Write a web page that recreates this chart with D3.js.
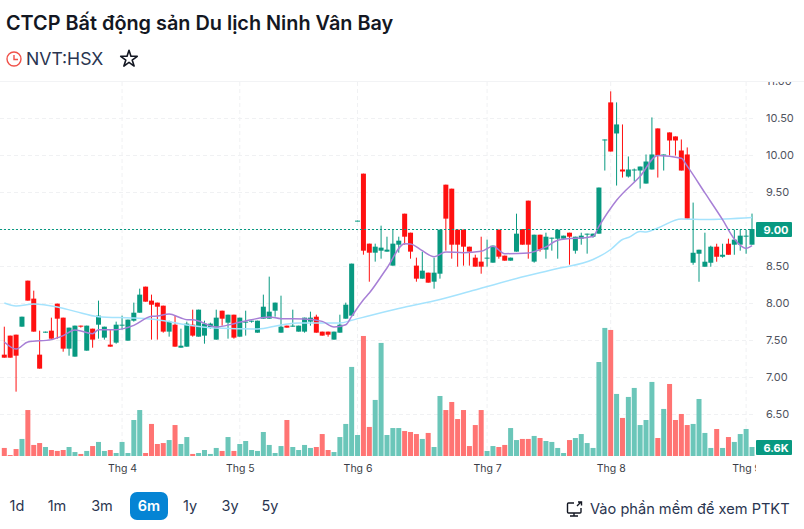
<!DOCTYPE html>
<html>
<head lang="en">
    <meta charset="UTF-8">
    <title>NVT:HSX</title>
    <script src="https://cdnjs.cloudflare.com/ajax/libs/d3/7.8.5/d3.min.js"></script>
    <style>
        body { margin: 0; background: #fff; }
        text { font-family: Inter, "Noto Sans", sans-serif; }
    </style>
</head>
<body>

<script>

    // prices, one entry per session
    var opens = [7.302,7.559,7.572,7.680,8.302,8.059,7.302,7.599,7.626,7.991,7.802,7.383,7.275,7.694,7.356,7.653,7.707,7.532,7.437,7.464,7.694,7.491,7.761,7.869,8.221,8.032,8.005,7.964,7.613,7.707,7.396,7.410,
        7.707,7.545,7.559,7.667,7.505,7.896,7.734,7.842,7.545,7.739,7.748,7.599,7.788,7.788,7.896,7.599,7.694,7.680,7.613,7.613,7.748,7.815,7.613,7.613,7.505,7.599,7.788,7.829,
        9.104,9.748,8.802,8.680,8.707,8.694,8.505,8.788,9.207,8.950,8.505,8.329,8.410,8.288,8.396,9.599,9.545,8.991,8.991,
        8.761,8.613,8.559,8.604,8.545,8.991,8.640,8.572,8.694,9.000,9.383,8.559,8.923,8.721,8.869,8.869,8.869,8.950,8.707,8.869,8.928,8.896,
        8.937,10.196,10.711,10.291,9.804,9.709,9.795,9.790,9.614,9.804,10.359,9.993,10.305,10.251,10.061,10.007,8.544,8.666,8.490,8.544,8.761,8.625,8.801,8.788,8.788,8.901,8.788];
    var closes = [7.261,7.261,7.288,7.815,8.032,7.613,7.113,7.613,7.518,7.788,7.383,7.667,7.694,7.680,7.694,7.505,7.829,7.680,7.410,7.707,7.707,7.775,7.869,8.113,8.018,7.977,7.950,7.613,7.748,7.410,7.423,7.721,
        7.559,7.910,7.721,7.721,7.802,7.788,7.842,7.532,7.802,7.748,7.761,7.761,7.950,7.883,8.005,7.680,7.667,7.694,7.694,7.802,7.802,7.599,7.559,7.572,7.613,7.707,7.977,8.532,
        9.113,8.707,8.680,8.761,8.748,8.721,8.802,8.842,8.896,8.694,8.329,8.437,8.275,8.410,8.991,9.140,8.788,8.788,8.761,
        8.694,8.491,8.491,8.613,8.775,8.626,8.572,8.613,8.937,8.788,8.788,8.923,8.721,8.896,8.883,8.991,8.910,8.896,8.896,8.910,8.937,8.937,
        9.560,10.210,10.047,10.413,9.777,9.804,9.804,9.844,9.912,10.007,9.993,10.007,10.196,10.196,9.790,9.140,8.679,8.720,8.558,8.761,8.625,8.652,8.652,8.856,8.910,8.910,9.000];
    var highs = [7.680,7.559,7.572,7.815,8.302,8.167,7.626,7.613,7.802,7.991,7.802,7.667,7.694,7.694,7.694,7.653,8.032,7.680,7.640,7.748,7.829,7.775,8.005,8.194,8.221,8.113,8.005,7.964,7.761,7.829,7.653,7.748,
        7.910,7.910,7.761,7.734,7.910,7.896,7.842,7.842,7.802,7.896,7.761,7.761,8.113,8.356,8.005,8.099,7.694,7.910,7.694,7.802,7.883,7.842,7.613,7.613,7.613,7.842,8.005,8.532,
        9.113,9.748,8.802,8.802,9.045,8.896,8.991,8.896,9.207,8.950,8.613,8.694,8.410,8.613,8.991,9.599,9.545,8.991,8.991,
        8.761,8.653,8.896,8.856,8.775,8.991,8.640,8.613,9.207,9.000,9.383,8.923,8.923,8.950,8.883,8.991,8.910,8.950,8.896,8.950,8.937,8.937,
        9.560,10.210,10.860,10.711,10.413,9.980,9.817,9.844,10.007,10.508,10.359,10.007,10.305,10.251,10.210,10.102,9.357,8.720,8.950,8.774,8.801,8.801,8.869,8.991,8.991,8.991,9.208];
    var lows = [7.261,7.261,6.802,7.680,8.032,7.613,7.113,7.599,7.518,7.518,7.342,7.288,7.275,7.667,7.356,7.396,7.518,7.505,7.410,7.450,7.640,7.491,7.748,7.869,8.018,7.505,7.505,7.599,7.545,7.410,7.396,7.410,
        7.545,7.545,7.450,7.653,7.505,7.694,7.518,7.518,7.545,7.559,7.734,7.599,7.788,7.788,7.815,7.599,7.667,7.680,7.613,7.599,7.694,7.599,7.559,7.545,7.505,7.599,7.788,7.829,
        9.104,8.653,8.288,8.559,8.599,8.694,8.505,8.680,8.788,8.599,8.288,8.329,8.275,8.194,8.329,8.707,8.599,8.491,8.505,
        8.505,8.491,8.396,8.491,8.545,8.599,8.572,8.572,8.694,8.788,8.599,8.545,8.694,8.599,8.707,8.599,8.869,8.518,8.667,8.788,8.667,8.883,
        8.937,9.790,10.047,9.587,9.695,9.695,9.641,9.546,9.614,9.804,9.695,9.790,9.993,9.993,9.790,9.140,8.517,8.287,8.490,8.490,8.558,8.612,8.652,8.652,8.707,8.666,8.788];
    // volume in thousands, same order
    var volumes = [5.9,0.7,5.1,12.5,33.7,8.1,9.5,6.6,4.4,3.7,4.4,6.6,2.9,1.5,3.7,7.3,10.3,3.7,4.4,2.2,10.3,2.2,26.4,33.7,2.2,23.5,8.8,9.5,11.7,22.7,8.8,13.9,
        1.5,2.2,4.4,1.5,5.9,3.7,13.9,3.7,8.8,11.0,4.4,3.7,17.6,8.1,2.2,7.3,26.4,6.6,4.4,8.1,5.9,6.6,16.1,4.4,2.9,13.9,23.5,65.3,
        15.4,88.0,21.3,41.1,82.9,15.4,20.5,20.5,18.3,17.6,16.1,12.5,16.9,6.6,44.0,33.7,39.6,27.1,33.7,
        7.3,22.7,33.7,3.7,7.3,6.6,8.1,20.5,11.7,12.5,12.5,14.7,13.2,11.0,10.3,5.9,2.2,11.7,13.2,16.1,9.5,5.9,
        68.9,93.9,92.4,45.5,27.9,43.3,49.9,22.7,26.4,54.3,13.2,34.5,52.8,26.4,30.8,22.7,23.5,41.8,16.9,5.9,19.8,5.9,13.9,10.3,16.1,19.8,6.6];

    // moving averages, read at the sessions where the lines bend
    var fastIdx = [0,2,4,8,10,12,15,16,19,22,25,26,28,30,31,32,36,39,42,45,47,51,54,56,58,59,61,62,65,68,69,71,73,75,78,81,83,85,89,92,94,100,101,104,108,111,115,116,119,122,124,126,127];
    var fastVal = [7.473,7.378,7.473,7.505,7.559,7.635,7.586,7.640,7.640,7.698,7.820,7.824,7.851,7.797,7.775,7.775,7.676,7.721,7.775,7.811,7.788,7.784,7.752,7.676,7.707,7.820,8.045,8.135,8.473,8.802,8.797,8.707,8.626,8.689,8.680,8.698,8.766,8.667,8.676,8.757,8.847,8.900,9.036,9.388,9.713,9.993,9.957,9.849,9.488,9.126,8.865,8.738,8.774];
    var slowIdx = [0,2,5,9,12,16,22,26,31,36,43,47,50,57,59,62,67,74,79,87,94,100,103,105,106,108,109,111,115,119,127];
    var slowVal = [8.000,7.960,7.986,7.946,7.887,7.815,7.797,7.775,7.703,7.662,7.649,7.703,7.730,7.730,7.766,7.829,7.926,8.047,8.155,8.331,8.466,8.588,8.723,8.858,8.885,8.966,8.960,9.014,9.135,9.128,9.155];

    var priceTicks = [6.5,7,7.5,8,8.5,9,9.5,10,10.5,11];
    var monthIdx = [20,40,60,82,103,126];
    var monthLabels = ["Thg 4","Thg 5","Thg 6","Thg 7","Thg 8","Thg 9"];
    var ranges = ["1d","1m","3m","6m","1y","3y","5y"];
    var rangeX = [17,57,102,149,190,230,270];

    var width = 804, height = 529;
    var plotTop = 82, plotRight = 756, plotBottom = 456;
    var up = "#089981", down = "#ff1010";

    var x = d3.scaleLinear().domain([0,127]).range([4.3,752]);
    var y = d3.scaleLinear().domain([6.5,11]).range([414,81]);
    var v = d3.scaleLinear().domain([0,100]).range([plotBottom,plotBottom-136.4]);

    var svg = d3.select("body").append("svg")
            .attr("width", width)
            .attr("height", height)
            .style("display", "block");

    svg.append("clipPath").attr("id","plot").append("rect")
            .attr("x",0).attr("y",plotTop).attr("width",plotRight).attr("height",plotBottom-plotTop+10);
    svg.append("clipPath").attr("id","yaxis").append("rect")
            .attr("x",plotRight).attr("y",plotTop).attr("width",48).attr("height",plotBottom-plotTop);
    svg.append("clipPath").attr("id","xaxis").append("rect")
            .attr("x",0).attr("y",plotBottom).attr("width",plotRight).attr("height",30);

    // header
    svg.append("text").text("CTCP Bất động sản Du lịch Ninh Vân Bay")
            .attr("x",6).attr("y",30).attr("font-size",19.85).attr("font-weight",600).attr("fill","#131722");
    svg.append("circle").attr("cx",14).attr("cy",59).attr("r",7)
            .attr("fill","none").attr("stroke","#f0524a").attr("stroke-width",1.4);
    svg.append("path").attr("d","M14 55V59.5H18")
            .attr("fill","none").attr("stroke","#f0524a").attr("stroke-width",1.4);
    svg.append("text").text("NVT:HSX")
            .attr("x",26).attr("y",65).attr("font-size",17.6).attr("fill","#2a3550");
    svg.append("path").attr("transform","translate(129,59)")
            .attr("d",d3.symbol().type(d3.symbolStar).size(85))
            .attr("fill","none").attr("stroke","#131722").attr("stroke-width",1.6).attr("stroke-linejoin","round");

    svg.append("line").attr("x1",0).attr("x2",width).attr("y1",81.5).attr("y2",81.5).attr("stroke","#f2f3f5");

    // grid
    var grid = svg.append("g").attr("stroke","#f0f1f3").attr("stroke-dasharray","4 3");
    grid.selectAll("line.h").data(priceTicks.slice(0,-1)).enter().append("line").attr("class","h")
            .attr("x1",0).attr("x2",plotRight)
            .attr("y1",function(d){ return Math.round(y(d))+0.5; })
            .attr("y2",function(d){ return Math.round(y(d))+0.5; });
    grid.selectAll("line.v").data(monthIdx).enter().append("line").attr("class","v")
            .attr("y1",plotTop).attr("y2",plotBottom)
            .attr("x1",function(d){ return x(d); })
            .attr("x2",function(d){ return x(d); });

    var plot = svg.append("g").attr("clip-path","url(#plot)");
    var idx = d3.range(opens.length);
    var rising = function(i){ return closes[i] >= opens[i]; };

    // volume bars
    plot.selectAll("rect.vol").data(idx).enter().append("rect").attr("class","vol")
            .attr("x",function(i){ return x(i)-2.5; })
            .attr("width",5)
            .attr("y",function(i){ return v(volumes[i]); })
            .attr("height",function(i){ return plotBottom-v(volumes[i]); })
            .attr("fill",function(i){ return rising(i) ? "#6bc6b9" : "#ff7473"; });

    // candles
    plot.selectAll("line.wick").data(idx).enter().append("line").attr("class","wick")
            .attr("x1",function(i){ return x(i); })
            .attr("x2",function(i){ return x(i); })
            .attr("y1",function(i){ return y(highs[i]); })
            .attr("y2",function(i){ return y(lows[i]); })
            .attr("stroke",function(i){ return rising(i) ? up : down; })
            .attr("stroke-width",1);
    plot.selectAll("rect.body").data(idx).enter().append("rect").attr("class","body")
            .attr("x",function(i){ return x(i)-2.5; })
            .attr("width",5)
            .attr("y",function(i){ return y(Math.max(opens[i],closes[i])); })
            .attr("height",function(i){ return Math.max(1,Math.abs(y(opens[i])-y(closes[i]))); })
            .attr("fill",function(i){ return rising(i) ? up : down; });

    // moving averages
    var line = d3.line()
            .x(function(d){ return x(d[0]); })
            .y(function(d){ return y(d[1]); })
            .curve(d3.curveMonotoneX);
    plot.append("path").datum(d3.zip(slowIdx,slowVal)).attr("d",line)
            .attr("fill","none").attr("stroke","#a5e3fd").attr("stroke-width",1.5);
    plot.append("path").datum(d3.zip(fastIdx,fastVal)).attr("d",line)
            .attr("fill","none").attr("stroke","#a77fd6").attr("stroke-width",1.5);

    // last price line
    svg.append("line").attr("x1",0).attr("x2",plotRight)
            .attr("y1",Math.round(y(9))+0.5).attr("y2",Math.round(y(9))+0.5)
            .attr("stroke",up).attr("stroke-dasharray","2 2");

    // axes, the 9.00 tick is covered by the last price tag
    var yAxis = svg.append("g").attr("clip-path","url(#yaxis)").append("g")
            .attr("transform","translate("+plotRight+",0)")
            .call(d3.axisRight(y).tickValues(priceTicks.filter(function(d){ return d != 9; })).tickFormat(d3.format(".2f")).tickSize(0).tickPadding(10));
    yAxis.select(".domain").remove();
    yAxis.selectAll("text").attr("font-size",11).attr("fill","#50535e").style("font-family","Inter");

    var xAxis = svg.append("g").attr("clip-path","url(#xaxis)").append("g")
            .attr("transform","translate(0,"+plotBottom+")")
            .call(d3.axisBottom(x).tickValues(monthIdx).tickFormat(function(d,i){ return monthLabels[i]; }).tickSize(0).tickPadding(9));
    xAxis.select(".domain").remove();
    xAxis.selectAll("text").attr("font-size",10.5).attr("fill","#3a3d46").style("font-family","Inter");

    // price and volume tags
    svg.append("rect").attr("x",plotRight).attr("y",222).attr("width",36).attr("height",15).attr("rx",1).attr("fill",up);
    svg.append("text").text("9.00").attr("x",776).attr("y",233.5).attr("text-anchor","middle")
            .attr("font-size",11).attr("font-weight",700).attr("fill","#fff");
    svg.append("rect").attr("x",plotRight).attr("y",440).attr("width",36).attr("height",15).attr("rx",1).attr("fill",up);
    svg.append("text").text("6.6K").attr("x",776).attr("y",451.5).attr("text-anchor","middle")
            .attr("font-size",11).attr("font-weight",700).attr("fill","#fff");

    // range buttons
    svg.append("rect").attr("x",130).attr("y",492).attr("width",38).attr("height",28).attr("rx",7).attr("fill","#0584d4");
    svg.selectAll("text.range").data(ranges).enter().append("text").attr("class","range")
            .text(function(d){ return d; })
            .attr("x",function(d,i){ return rangeX[i]; })
            .attr("y",511)
            .attr("text-anchor","middle")
            .attr("font-size",14.5)
            .attr("font-weight",function(d){ return d == "6m" ? 600 : 400; })
            .attr("fill",function(d){ return d == "6m" ? "#fff" : "#2a3550"; });

    // link to the full chart
    svg.append("path").attr("d","M574 503H568.5Q567.5 503 567.5 504V512Q567.5 513 568.5 513H580Q581 513 581 512V508M570 516H578M574 513V516M577 506L581 502M578 502H581.5V505.5")
            .attr("fill","none").attr("stroke","#131722").attr("stroke-width",1.4);
    svg.append("text").text("Vào phần mềm để xem PTKT")
            .attr("x",590).attr("y",514).attr("font-size",14.6).attr("fill","#2a3550");

</script>

</body>
</html>
